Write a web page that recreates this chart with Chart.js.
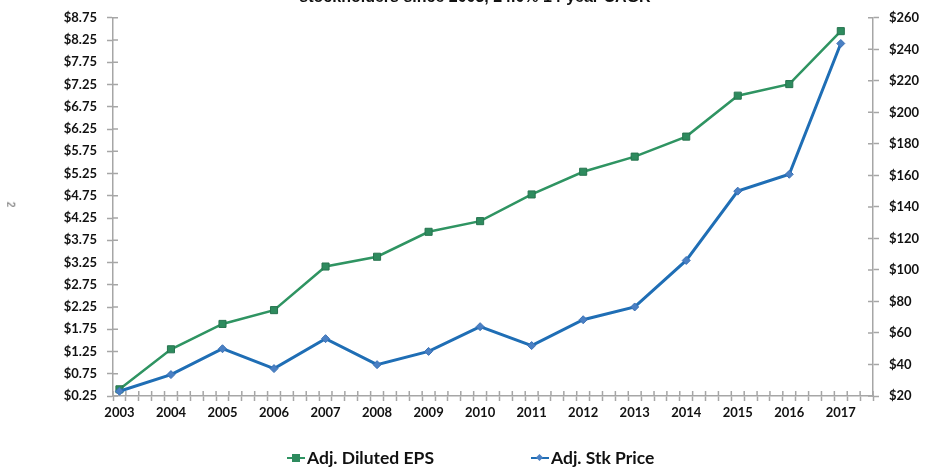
<!DOCTYPE html>
<html>
<head>
<meta charset="utf-8">
<script src="https://cdn.jsdelivr.net/npm/chart.js@4.4.0/dist/chart.umd.min.js"></script>
<style>
  html, body { margin: 0; padding: 0; background: #fff; }
  #wrap { position: relative; width: 926px; height: 472px; overflow: hidden; font-family: Lato, 'Open Sans', sans-serif; }
  #title { position: absolute; left: 0; width: 950px; top: -12px; text-align: center; font: bold 16px 'Liberation Sans', Arial, sans-serif; color: #111; }
  #pageno { position: absolute; left: 8px; top: 199px; font: 10px 'Liberation Sans', Arial, sans-serif; color: #555; transform: rotate(90deg); }
  .leg { position: absolute; top: 447px; font: bold 17.5px Lato, sans-serif; color: #111; display: flex; align-items: center; }
  .leg .sym { position: relative; width: 18px; height: 14px; margin-right: 2px; }
  .leg .sym .ln { position: absolute; left: 0; right: 0; top: 6px; height: 2px; }
  .leg .sym .mk { position: absolute; }
</style>
</head>
<body>
<div id="wrap">
  <canvas id="myChart" width="926" height="472"></canvas>
  <div id="title">stockholders since 2003, 24.0% 14-year CAGR</div>
  <div id="pageno">2</div>
  <div class="leg" style="left:287px">
    <span class="sym"><span class="ln" style="background:#2f9462"></span><span class="mk" style="left:5px;top:3px;width:8px;height:8px;background:#2e8b5e"></span></span>Adj. Diluted EPS
  </div>
  <div class="leg" style="left:531px">
    <span class="sym"><span class="ln" style="background:#1f6eb5"></span><span class="mk" style="left:6px;top:4px;width:5px;height:5px;background:#4a80c4;transform:rotate(45deg)"></span></span>Adj. Stk Price
  </div>
</div>
<script>
const years = [2003, 2004, 2005, 2006, 2007, 2008, 2009, 2010, 2011, 2012, 2013, 2014, 2015, 2016, 2017];
const epsValues = [0.40, 1.30, 1.87, 2.18, 3.16, 3.38, 3.94, 4.18, 4.78, 5.29, 5.63, 6.08, 7.00, 7.26, 8.45];
const priceValues = [23, 33.6, 50, 37.4, 56.4, 39.9, 48.3, 64, 52, 68.4, 76.5, 106, 150, 160.7, 243.7];
const epsTicks = [0.25, 0.75, 1.25, 1.75, 2.25, 2.75, 3.25, 3.75, 4.25, 4.75, 5.25, 5.75, 6.25, 6.75, 7.25, 7.75, 8.25, 8.75];
const priceTicks = [20, 40, 60, 80, 100, 120, 140, 160, 180, 200, 220, 240, 260];

const xMin = 2002.875, xMax = 2017.625;
const axisColor = '#a6a6a6';
const tickFont = { family: 'Lato', size: 13, weight: 'bold' };

// minor ticks on the x axis, a quarter year apart
const xMinor = [];
for (let v = xMin; v <= xMax + 0.001; v += 0.25) xMinor.push(v);

// draw the inner half of each tick mark so they cross the axis line
const crossTicks = {
  id: 'crossTicks',
  afterDraw(chart) {
    const ctx = chart.ctx;
    const area = chart.chartArea;
    ctx.save();
    ctx.strokeStyle = axisColor;
    ctx.lineWidth = 1.5;
    ctx.beginPath();
    const yl = chart.scales.yEps, yr = chart.scales.yPrice, x = chart.scales.x;
    epsTicks.forEach(v => { const p = yl.getPixelForValue(v); ctx.moveTo(area.left, p); ctx.lineTo(area.left + 5, p); });
    priceTicks.forEach(v => { const p = yr.getPixelForValue(v); ctx.moveTo(area.right, p); ctx.lineTo(area.right - 5, p); });
    xMinor.forEach(v => { const p = x.getPixelForValue(v); ctx.moveTo(p, area.bottom); ctx.lineTo(p, area.bottom - 5); });
    ctx.stroke();
    ctx.restore();
  }
};

const ctx = document.getElementById('myChart').getContext('2d');
new Chart(ctx, {
  type: 'line',
  data: {
    datasets: [
      {
        label: 'Adj. Diluted EPS',
        data: years.map((y, i) => ({ x: y, y: epsValues[i] })),
        yAxisID: 'yEps',
        borderColor: '#2f9462',
        borderWidth: 2.5,
        pointStyle: 'rect',
        pointRadius: 5,
        pointBackgroundColor: '#2e8b5e',
        pointBorderColor: '#27744f',
        pointBorderWidth: 1,
        tension: 0,
        order: 1,
      },
      {
        label: 'Adj. Stk Price',
        data: years.map((y, i) => ({ x: y, y: priceValues[i] })),
        yAxisID: 'yPrice',
        borderColor: '#1f6eb5',
        borderWidth: 3,
        pointStyle: 'rectRot',
        pointRadius: 4,
        pointBackgroundColor: '#4a80c4',
        pointBorderColor: '#3a70b4',
        pointBorderWidth: 1,
        tension: 0,
        order: 0,
      },
    ],
  },
  options: {
    responsive: false,
    animation: false,
    layout: { padding: { top: 14, left: 0, right: 0, bottom: 0 } },
    plugins: { legend: { display: false }, tooltip: { enabled: false } },
    scales: {
      x: {
        type: 'linear',
        min: xMin,
        max: xMax,
        afterBuildTicks: (scale) => {
          scale.ticks = xMinor.map(v => ({ value: v })).concat(years.map(v => ({ value: v })));
        },
        afterFit: (scale) => { scale.height = 76; },
        grid: {
          drawOnChartArea: false,
          tickLength: 5,
          tickColor: (c) => (Number.isInteger(c.tick.value) ? 'rgba(0,0,0,0)' : axisColor),
          tickWidth: 1.5,
        },
        border: { color: axisColor, width: 1.5 },
        ticks: {
          autoSkip: false,
          maxRotation: 0,
          padding: 4,
          color: '#111',
          font: tickFont,
          callback: (v) => (Number.isInteger(v) ? String(v) : ''),
        },
      },
      yEps: {
        type: 'linear',
        position: 'left',
        min: 0.25,
        max: 8.75,
        afterBuildTicks: (scale) => { scale.ticks = epsTicks.map(v => ({ value: v })); },
        afterFit: (scale) => { scale.width = 113; },
        grid: { drawOnChartArea: false, tickLength: 6, tickColor: axisColor, tickWidth: 1.5 },
        border: { color: axisColor, width: 1.5 },
        ticks: { padding: 10, color: '#111', font: tickFont, callback: (v) => '$' + v.toFixed(2) },
      },
      yPrice: {
        type: 'linear',
        position: 'right',
        min: 20,
        max: 260,
        afterBuildTicks: (scale) => { scale.ticks = priceTicks.map(v => ({ value: v })); },
        afterFit: (scale) => { scale.width = 53; },
        grid: { drawOnChartArea: false, tickLength: 6, tickColor: axisColor, tickWidth: 1.5 },
        border: { color: axisColor, width: 1.5 },
        ticks: { padding: 10, color: '#111', font: tickFont, callback: (v) => '$' + v },
      },
    },
  },
  plugins: [crossTicks],
});
</script>
</body>
</html>
